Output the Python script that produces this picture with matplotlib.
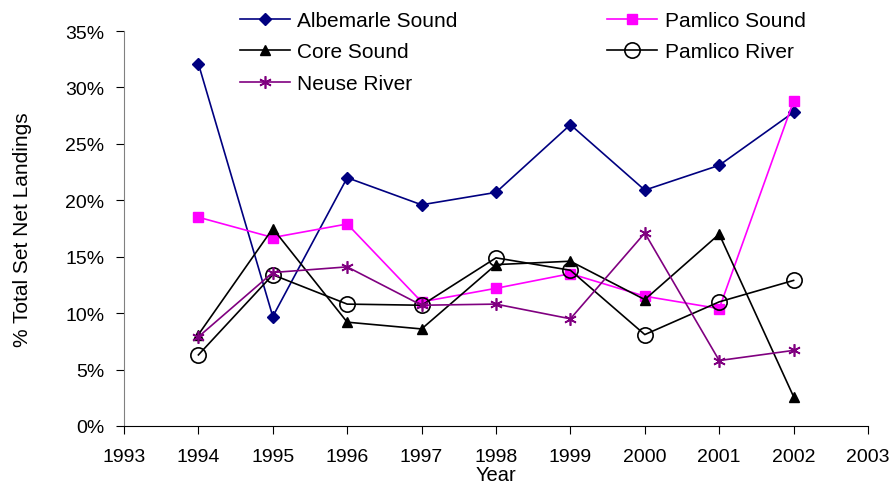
import matplotlib
matplotlib.use("Agg")
import matplotlib.pyplot as plt
from matplotlib.ticker import FuncFormatter, MultipleLocator

plt.rcParams['font.family'] = ['Liberation Sans', 'DejaVu Sans']

years = [1994, 1995, 1996, 1997, 1998, 1999, 2000, 2001, 2002]
albemarle = [32.1, 9.7, 22.0, 19.6, 20.7, 26.7, 20.9, 23.1, 27.8]
pamlico_sound = [18.5, 16.7, 17.9, 11.0, 12.2, 13.5, 11.5, 10.4, 28.8]
core_sound = [8.1, 17.5, 9.2, 8.6, 14.3, 14.6, 11.2, 17.0, 2.6]
pamlico_river = [6.3, 13.4, 10.8, 10.7, 14.9, 13.8, 8.1, 11.0, 12.9]
neuse_river = [7.9, 13.6, 14.1, 10.7, 10.8, 9.5, 17.1, 5.8, 6.7]

fig = plt.figure(figsize=(8.91, 4.85), dpi=100)
ax = fig.add_axes([124/891, 1-427/485, (868-124)/891, (427-32)/485])

h1, = ax.plot(years, albemarle, color='#000080', marker='D', ms=6, lw=1.2, label='Albemarle Sound')
h2, = ax.plot(years, pamlico_sound, color='#FF00FF', marker='s', ms=7, lw=1.2, label='Pamlico Sound')
h3, = ax.plot(years, core_sound, color='black', marker='^', ms=7, lw=1.2, label='Core Sound')
h4, = ax.plot(years, pamlico_river, color='black', marker='o', ms=11, mfc='none', mew=1.2, lw=1.2, label='Pamlico River')
h5, = ax.plot(years, neuse_river, color='#800080', marker=(6, 2, 0), ms=9, mew=1.2, lw=1.2, label='Neuse River')

ax.set_xlim(1993, 2003)
ax.set_ylim(0, 35)
ax.xaxis.set_major_locator(MultipleLocator(1))
ax.yaxis.set_major_locator(MultipleLocator(5))
ax.yaxis.set_major_formatter(FuncFormatter(lambda v, p: f"{v:.0f}%"))
for s in ['top', 'right']:
    ax.spines[s].set_visible(False)
ax.spines['left'].set_color('#808080')
ax.tick_params(direction='out', length=6, labelsize=14)
ax.tick_params(axis='x', pad=10)
ax.tick_params(axis='y', pad=8)
ax.set_xlabel('Year', fontsize=14.5, labelpad=0)
ax.set_ylabel('% Total Set Net Landings', fontsize=15, labelpad=24)

leg = fig.legend(handles=[h1, h3, h5, h2, h4], ncol=2, frameon=False, fontsize=15,
                 loc='upper left', bbox_to_anchor=(240/891, 1-12/485),
                 borderpad=0, borderaxespad=0, handlelength=2.4,
                 columnspacing=7.2, labelspacing=0.6, handletextpad=0.34)

fig.savefig('out.png', dpi=100)
